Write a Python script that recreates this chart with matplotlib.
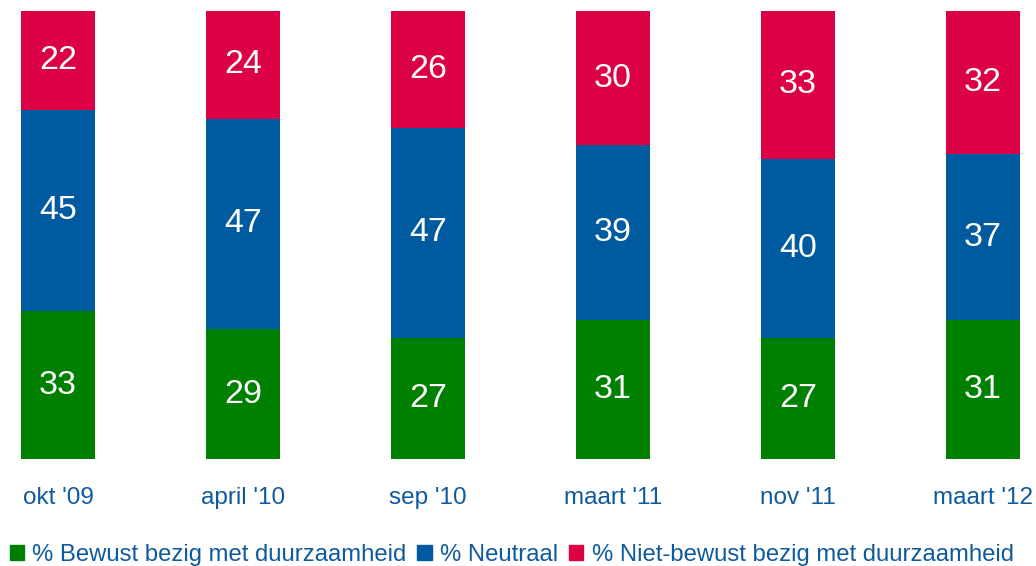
import matplotlib.pyplot as plt
from matplotlib.patches import Patch

plt.rcParams['font.family'] = ['Liberation Sans', 'DejaVu Sans']

periods = ["okt '09", "april '10", "sep '10", "maart '11", "nov '11", "maart '12"]
bewust = [33, 29, 27, 31, 27, 31]
neutraal = [45, 47, 47, 39, 40, 37]
niet_bewust = [22, 24, 26, 30, 33, 32]

green = '#008000'
blue = '#005AA0'
red = '#DC0045'
text_blue = '#0F5A9E'

fig = plt.figure(figsize=(10.36, 5.66), dpi=100)
ax = fig.add_axes([0, 0.189, 1, 0.7915])

x = list(range(len(periods)))
w = 0.4
bottom2 = [a + b for a, b in zip(bewust, neutraal)]

b1 = ax.bar(x, bewust, w, color=green)
b2 = ax.bar(x, neutraal, w, bottom=bewust, color=blue)
b3 = ax.bar(x, niet_bewust, w, bottom=bottom2, color=red)

for bars in (b1, b2, b3):
    ax.bar_label(bars, label_type='center', color='white', fontsize=24.5)

ax.set_xlim(-58 / 185, (1036 - 58) / 185)
ax.set_ylim(0, 100)
ax.set_xticks(x)
ax.set_xticklabels(periods, color=text_blue, fontsize=17.5)
ax.tick_params(axis='x', length=0, pad=20.5)
ax.set_yticks([])
for s in ax.spines.values():
    s.set_visible(False)

handles = [Patch(color=green), Patch(color=blue), Patch(color=red)]
labels = ['% Bewust bezig met duurzaamheid', '% Neutraal', '% Niet-bewust bezig met duurzaamheid']
leg = fig.legend(handles, labels, loc='center', bbox_to_anchor=(0.494, 11 / 566), ncol=3,
                 frameon=False, fontsize=17.2, handlelength=0.6, handleheight=0.6,
                 handletextpad=0.35, columnspacing=0.45, borderaxespad=0, borderpad=0)
for t in leg.get_texts():
    t.set_color(text_blue)

fig.savefig('out.png', dpi=100)
